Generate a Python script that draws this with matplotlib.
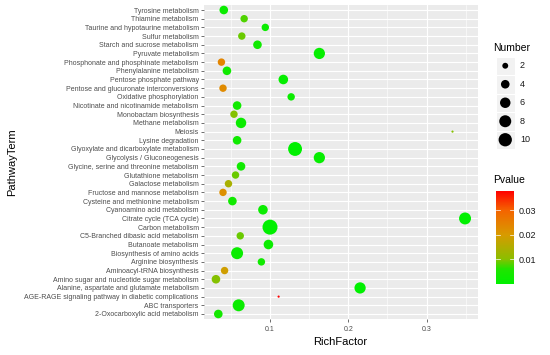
import numpy as np
import matplotlib
matplotlib.use("Agg")
import matplotlib.pyplot as plt
from matplotlib.colors import LinearSegmentedColormap, Normalize
from matplotlib.cm import ScalarMappable
from matplotlib.patches import Rectangle

plt.rcParams["font.family"] = ["Liberation Sans", "DejaVu Sans"]

# ── Données (ordre du haut vers le bas) ─────────────────────────────
terms = [
    "Tyrosine metabolism", "Thiamine metabolism", "Taurine and hypotaurine metabolism",
    "Sulfur metabolism", "Starch and sucrose metabolism", "Pyruvate metabolism",
    "Phosphonate and phosphinate metabolism", "Phenylalanine metabolism",
    "Pentose phosphate pathway", "Pentose and glucuronate interconversions",
    "Oxidative phosphorylation", "Nicotinate and nicotinamide metabolism",
    "Monobactam biosynthesis", "Methane metabolism", "Meiosis", "Lysine degradation",
    "Glyoxylate and dicarboxylate metabolism", "Glycolysis / Gluconeogenesis",
    "Glycine, serine and threonine metabolism", "Glutathione metabolism",
    "Galactose metabolism", "Fructose and mannose metabolism",
    "Cysteine and methionine metabolism", "Cyanoamino acid metabolism",
    "Citrate cycle (TCA cycle)", "Carbon metabolism", "C5-Branched dibasic acid metabolism",
    "Butanoate metabolism", "Biosynthesis of amino acids", "Arginine biosynthesis",
    "Aminoacyl-tRNA biosynthesis", "Amino sugar and nucleotide sugar metabolism",
    "Alanine, aspartate and glutamate metabolism",
    "AGE-RAGE signaling pathway in diabetic complications", "ABC transporters",
    "2-Oxocarboxylic acid metabolism",
]
rich_factor = [0.041, 0.067, 0.094, 0.064, 0.084, 0.163, 0.038, 0.045, 0.117, 0.040,
               0.127, 0.058, 0.054, 0.063, 0.333, 0.058, 0.132, 0.163, 0.063, 0.056,
               0.047, 0.040, 0.052, 0.091, 0.349, 0.100, 0.062, 0.098, 0.058, 0.089,
               0.042, 0.031, 0.215, 0.111, 0.060, 0.034]
number = [4, 3, 3, 3, 4, 7, 3, 4, 5, 3,
          3, 4, 3, 6, 1, 4, 11, 7, 4, 3,
          3, 3, 4, 5, 8, 13, 3, 5, 8, 3,
          3, 4, 7, 1, 8, 4]
pvalue = [0.002, 0.008, 0.002, 0.009, 0.003, 0.001, 0.024, 0.003, 0.001, 0.023,
          0.002, 0.003, 0.010, 0.002, 0.010, 0.003, 0.00001, 0.001, 0.003, 0.009,
          0.014, 0.022, 0.003, 0.002, 0.00001, 0.00001, 0.009, 0.002, 0.002, 0.003,
          0.019, 0.010, 0.00001, 0.038, 0.002, 0.004]
size_breaks = [2, 4, 6, 8, 10]
p_ticks = [0.01, 0.02, 0.03]

cmap = LinearSegmentedColormap.from_list("pval", [
    (0.00, "#00F000"), (0.16, "#20E400"), (0.27, "#8CBE00"),
    (0.53, "#D89A00"), (0.79, "#F46400"), (1.00, "#FF0000"),
])
norm = Normalize(min(pvalue), max(pvalue))

nmin, nmax = min(number), max(number)


def diam_pt(n):
    # échelle d'aire type scale_size : diamètre en px -> points
    px = 2.2 + 12.8 * np.sqrt((np.asarray(n, float) - nmin) / (nmax - nmin))
    return px * 0.72


# ── Figure ──────────────────────────────────────────────────────────
W, H = 550, 355
fig = plt.figure(figsize=(W / 100, H / 100), dpi=100)
ax = fig.add_axes([203.5 / W, (H - 319.2) / H, 274 / W, 314.4 / H])
ax.set_facecolor("#EBEBEB")

y = np.arange(len(terms))
ax.scatter(rich_factor, y, s=diam_pt(number) ** 2, c=pvalue, cmap=cmap, norm=norm,
           linewidths=0, zorder=3)

x0, x1 = min(rich_factor), max(rich_factor)
pad = 0.05 * (x1 - x0)
ax.set_xlim(x0 - pad, x1 + pad)
ax.set_ylim(len(terms) - 0.4, -0.6)
ax.set_yticks(y)
ax.set_yticklabels(terms)
ax.set_xticks([0.1, 0.2, 0.3])
ax.set_xticklabels(["0.1", "0.2", "0.3"])
ax.set_xticks([0.05, 0.15, 0.25, 0.35], minor=True)
ax.grid(which="major", color="white", lw=0.8, zorder=0)
ax.grid(which="minor", axis="x", color="white", lw=0.4, zorder=0)
ax.set_axisbelow(True)
for s in ax.spines.values():
    s.set_visible(False)
ax.tick_params(which="major", length=2, width=0.5, color="#333333",
               labelsize=5, labelcolor="#4D4D4D", pad=1.5)
ax.tick_params(axis="x", which="major", pad=3)
ax.tick_params(which="minor", length=0)
ax.set_xlabel("RichFactor", fontsize=8, labelpad=3)
ax.set_ylabel("PathwayTerm", fontsize=8, labelpad=3)
ax.yaxis.set_label_coords(-0.68, 0.5)

# ── Légende des tailles ─────────────────────────────────────────────
fig.text(493 / W, (H - 48) / H, "Number", fontsize=7.5, va="center", ha="left")
key = 18.5
lax = fig.add_axes([496 / W, (H - 56.5 - key * 5) / H, key / W, key * 5 / H])
lax.set_xlim(0, 1)
lax.set_ylim(len(size_breaks), 0)
lax.axis("off")
for i, b in enumerate(size_breaks):
    lax.add_patch(Rectangle((0, i), 1, 1, facecolor="#F2F2F2", edgecolor="white", lw=0.8))
lax.scatter([0.5] * len(size_breaks), np.arange(len(size_breaks)) + 0.5,
            s=diam_pt(size_breaks) ** 2, c="black", linewidths=0)
for i, b in enumerate(size_breaks):
    fig.text(520 / W, (H - (56.5 + key * (i + 0.5))) / H, str(b), fontsize=6.5,
             va="center", ha="left", color="#1A1A1A")

# ── Barre de couleur ────────────────────────────────────────────────
fig.text(493 / W, (H - 180) / H, "Pvalue", fontsize=7.5, va="center", ha="left")
cax = fig.add_axes([496 / W, (H - 284) / H, 18 / W, 93.3 / H])
cb = fig.colorbar(ScalarMappable(norm=norm, cmap=cmap), cax=cax, ticks=p_ticks)
cb.outline.set_visible(False)
cb.ax.tick_params(length=0, labelsize=6.5, labelcolor="#1A1A1A", pad=3)
cb.ax.set_yticklabels([f"{t:.2f}" for t in p_ticks])
for t in p_ticks:
    cax.plot([0, 0.2], [t, t], color="white", lw=0.5)
    cax.plot([0.8, 1], [t, t], color="white", lw=0.5)

fig.savefig("out.png", dpi=100)
